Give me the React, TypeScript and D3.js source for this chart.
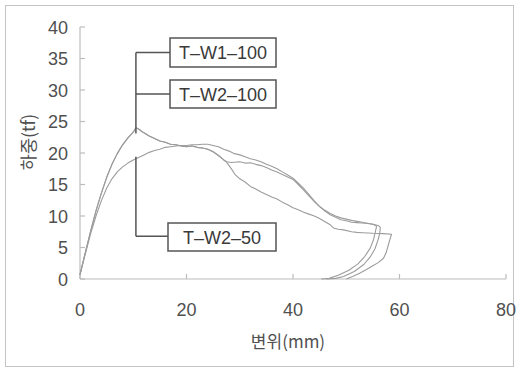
import React from "react";
import * as d3 from "d3";

const W = 518;
const H = 369;

// shared rising branch of the two 100-spacing specimens
const riseA_d = [0, 1, 2, 3, 4, 5, 6, 7, 8, 9, 10, 10.5];
const riseA_f = [0.7, 4.2, 7.6, 10.8, 13.6, 16.1, 18.2, 19.9, 21.3, 22.4, 23.3, 24.0];

// post-peak common branch of A curves
const postA_d = [11, 11.5, 12, 13, 14, 15, 16, 17, 18, 19, 20, 21, 22, 23, 24, 25, 26, 27, 27.5];
const postA_f = [23.8, 23.5, 23.2, 22.7, 22.3, 21.9, 21.7, 21.4, 21.3, 21.1, 21.0, 21.1, 20.9, 20.8, 20.6, 20.2, 19.6, 18.9, 18.6];

// T-W1-100 tail (middle path)
const tailA1_d = [28.5, 30, 31, 32, 33, 34, 35, 36, 37, 38, 39, 40, 41, 42, 43, 44, 45, 46, 47, 48, 49, 50, 51, 52, 53, 54, 55, 56, 56.4,
  56.3, 56.0, 55.4, 54.5, 53.3, 51.5, 49.5, 48, 46.3];
const tailA1_f = [18.5, 18.6, 18.4, 18.45, 18.2, 18.0, 17.7, 17.3, 17.0, 16.6, 16.2, 15.8, 15.0, 14.1, 13.2, 12.3, 11.5, 10.8, 10.2, 9.8, 9.4, 9.25, 9.0, 8.95, 8.9, 8.8, 8.7, 8.5, 8.2,
  7.3, 6.3, 4.8, 3.5, 2.3, 1.2, 0.4, 0.1, 0];

// T-W2-100 tail (earliest drop)
const tailA2_d = [28.5, 29.1, 30, 31, 32, 33, 34, 35, 36, 37, 38, 39, 40, 41, 42, 43, 44, 45, 46, 47, 47.6, 48.5, 49.5, 51, 52, 53, 55, 57, 58.5,
  58.2, 57.9, 57.5, 57.0, 56, 55, 53.8, 52.5, 51.2, 50];
const tailA2_f = [17.4, 16.6, 15.9, 15.4, 14.7, 14.3, 13.8, 13.4, 13.0, 12.7, 12.2, 11.8, 11.3, 11.0, 10.6, 10.3, 10.0, 9.6, 9.1, 8.6, 8.1, 7.9, 7.8, 7.5, 7.4, 7.35, 7.25, 7.2, 7.1,
  6.3, 5.4, 4.2, 3.3, 2.6, 2.1, 1.5, 0.9, 0.4, 0];

// T-W2-50 full curve
const curveB_d = [0, 1, 2, 3, 4, 5, 6, 7, 8, 9, 10, 11, 12, 13, 14, 15, 16, 17, 18, 19, 20, 21, 22, 23, 24, 25, 26, 27, 28, 29, 30, 31, 32, 33, 34, 35, 36, 37, 38, 39, 40, 41, 42, 43, 44, 45, 46, 47, 48, 49, 50, 51, 52, 53, 54, 55, 55.7,
  55.5, 55.1, 54.5, 53.5, 52.2, 50.5, 48.5, 46.8, 45.3];
const curveB_f = [0.7, 4.0, 7.2, 10.0, 12.4, 14.4, 15.9, 17.0, 17.8, 18.4, 18.9, 19.3, 19.7, 20.1, 20.4, 20.6, 20.9, 21.0, 21.1, 21.2, 21.2, 21.3, 21.3, 21.4, 21.4, 21.2, 21.0, 20.6, 20.3, 19.9, 19.7, 19.4, 19.1, 18.9, 18.6, 18.2, 17.9, 17.5, 17.0, 16.5, 16.0, 15.2, 14.4, 13.4, 12.4, 11.5, 10.9, 10.4, 10.0, 9.7, 9.5, 9.3, 9.15, 9.0, 8.85, 8.7, 8.4,
  7.6, 6.2, 4.9, 3.6, 2.4, 1.4, 0.6, 0.1, 0];

const xTicks = [0, 20, 40, 60, 80];
const yTicks = [0, 5, 10, 15, 20, 25, 30, 35, 40];

const legendLabels = ["T–W1–100", "T–W2–100", "T–W2–50"];
// leader anchor points in data units
const leaderX = 10.5;
const leaderTopF = 23.1;
const leaderBF = [19.4, 6.8];

const xTitle = "변위(mm)";
const yTitle = "하중(tf)";

function zip(d: number[], f: number[]): [number, number][] {
  return d.map((v, i) => [v, f[i]]);
}

export default function App() {
  const x = d3.scaleLinear().domain([0, 80]).range([80, 506]);
  const y = d3.scaleLinear().domain([0, 40]).range([279, 27]);
  const line = d3
    .line<[number, number]>()
    .x((p) => x(p[0]))
    .y((p) => y(p[1]));

  const rise = zip(riseA_d, riseA_f);
  const post = zip(postA_d, postA_f);
  const a1 = [...rise, ...post, ...zip(tailA1_d, tailA1_f)];
  const a2 = [...rise, ...post, ...zip(tailA2_d, tailA2_f)];
  const b = zip(curveB_d, curveB_f);

  const curveColor = "#9c9c9c";
  const axisColor = "#bcbcbc";
  const textColor = "#505050";
  const boxColor = "#555";
  const font = "'Liberation Sans', Arial, sans-serif";
  const kfont = "'Noto Sans CJK KR', 'Noto Sans', sans-serif";

  const lx = x(leaderX);
  const boxes = [
    { x: 170, y: 38, w: 106, h: 29 },
    { x: 170, y: 80, w: 106, h: 28 },
    { x: 168, y: 223, w: 108, h: 28 },
  ];

  return (
    <svg width={W} height={H} style={{ position: "absolute", left: 0, top: 0, background: "#fff" }}>
      <rect x={5.5} y={5.5} width={508} height={361} fill="#fff" stroke="#c4c4c4" strokeWidth={1} />
      {/* axes */}
      <line x1={x(0)} x2={x(80)} y1={y(0)} y2={y(0)} stroke={axisColor} strokeWidth={1.2} />
      <line x1={x(0)} x2={x(0)} y1={y(0)} y2={y(40)} stroke={axisColor} strokeWidth={1.2} />
      {xTicks.map((t) => (
        <g key={"x" + t}>
          <line x1={x(t)} x2={x(t)} y1={y(0)} y2={y(0) - 5} stroke={axisColor} strokeWidth={1.2} />
          <text x={x(t)} y={316} textAnchor="middle" fontFamily={font} fontSize={18} fill={textColor}>
            {t}
          </text>
        </g>
      ))}
      {yTicks.map((t) => (
        <g key={"y" + t}>
          <line x1={x(0)} x2={x(0) + 5} y1={y(t)} y2={y(t)} stroke={axisColor} strokeWidth={1.2} />
          <text x={68} y={y(t) + 6.5} textAnchor="end" fontFamily={font} fontSize={18} fill={textColor}>
            {t}
          </text>
        </g>
      ))}
      <text x={288} y={348} textAnchor="middle" fontFamily={kfont} fontSize={17} fill={textColor}>
        {xTitle}
      </text>
      <text
        transform={`translate(35,142) rotate(-90)`}
        textAnchor="middle"
        fontFamily={kfont}
        fontSize={17.5}
        fill={textColor}
      >
        {yTitle}
      </text>
      {/* curves */}
      {[a1, a2, b].map((c, i) => (
        <path key={i} d={line(c) || ""} fill="none" stroke={curveColor} strokeWidth={1.1} strokeLinejoin="round" />
      ))}
      {/* leaders */}
      <g stroke={boxColor} strokeWidth={1.5} fill="none">
        <line x1={lx} x2={lx} y1={boxes[0].y + boxes[0].h / 2} y2={y(leaderTopF)} />
        <line x1={lx} x2={boxes[0].x} y1={boxes[0].y + boxes[0].h / 2} y2={boxes[0].y + boxes[0].h / 2} />
        <line x1={lx} x2={boxes[1].x} y1={boxes[1].y + boxes[1].h / 2} y2={boxes[1].y + boxes[1].h / 2} />
        <line x1={lx} x2={lx} y1={y(leaderBF[0])} y2={y(leaderBF[1])} />
        <line x1={lx} x2={boxes[2].x} y1={y(leaderBF[1])} y2={y(leaderBF[1])} />
      </g>
      {boxes.map((bx, i) => (
        <g key={"b" + i}>
          <rect x={bx.x} y={bx.y} width={bx.w} height={bx.h} fill="#fff" stroke={boxColor} strokeWidth={1.5} />
          <text
            x={bx.x + bx.w / 2}
            y={bx.y + bx.h / 2 + 6.5}
            textAnchor="middle"
            fontFamily={font}
            fontSize={18}
            fill="#3a3a3a"
          >
            {legendLabels[i]}
          </text>
        </g>
      ))}
    </svg>
  );
}
